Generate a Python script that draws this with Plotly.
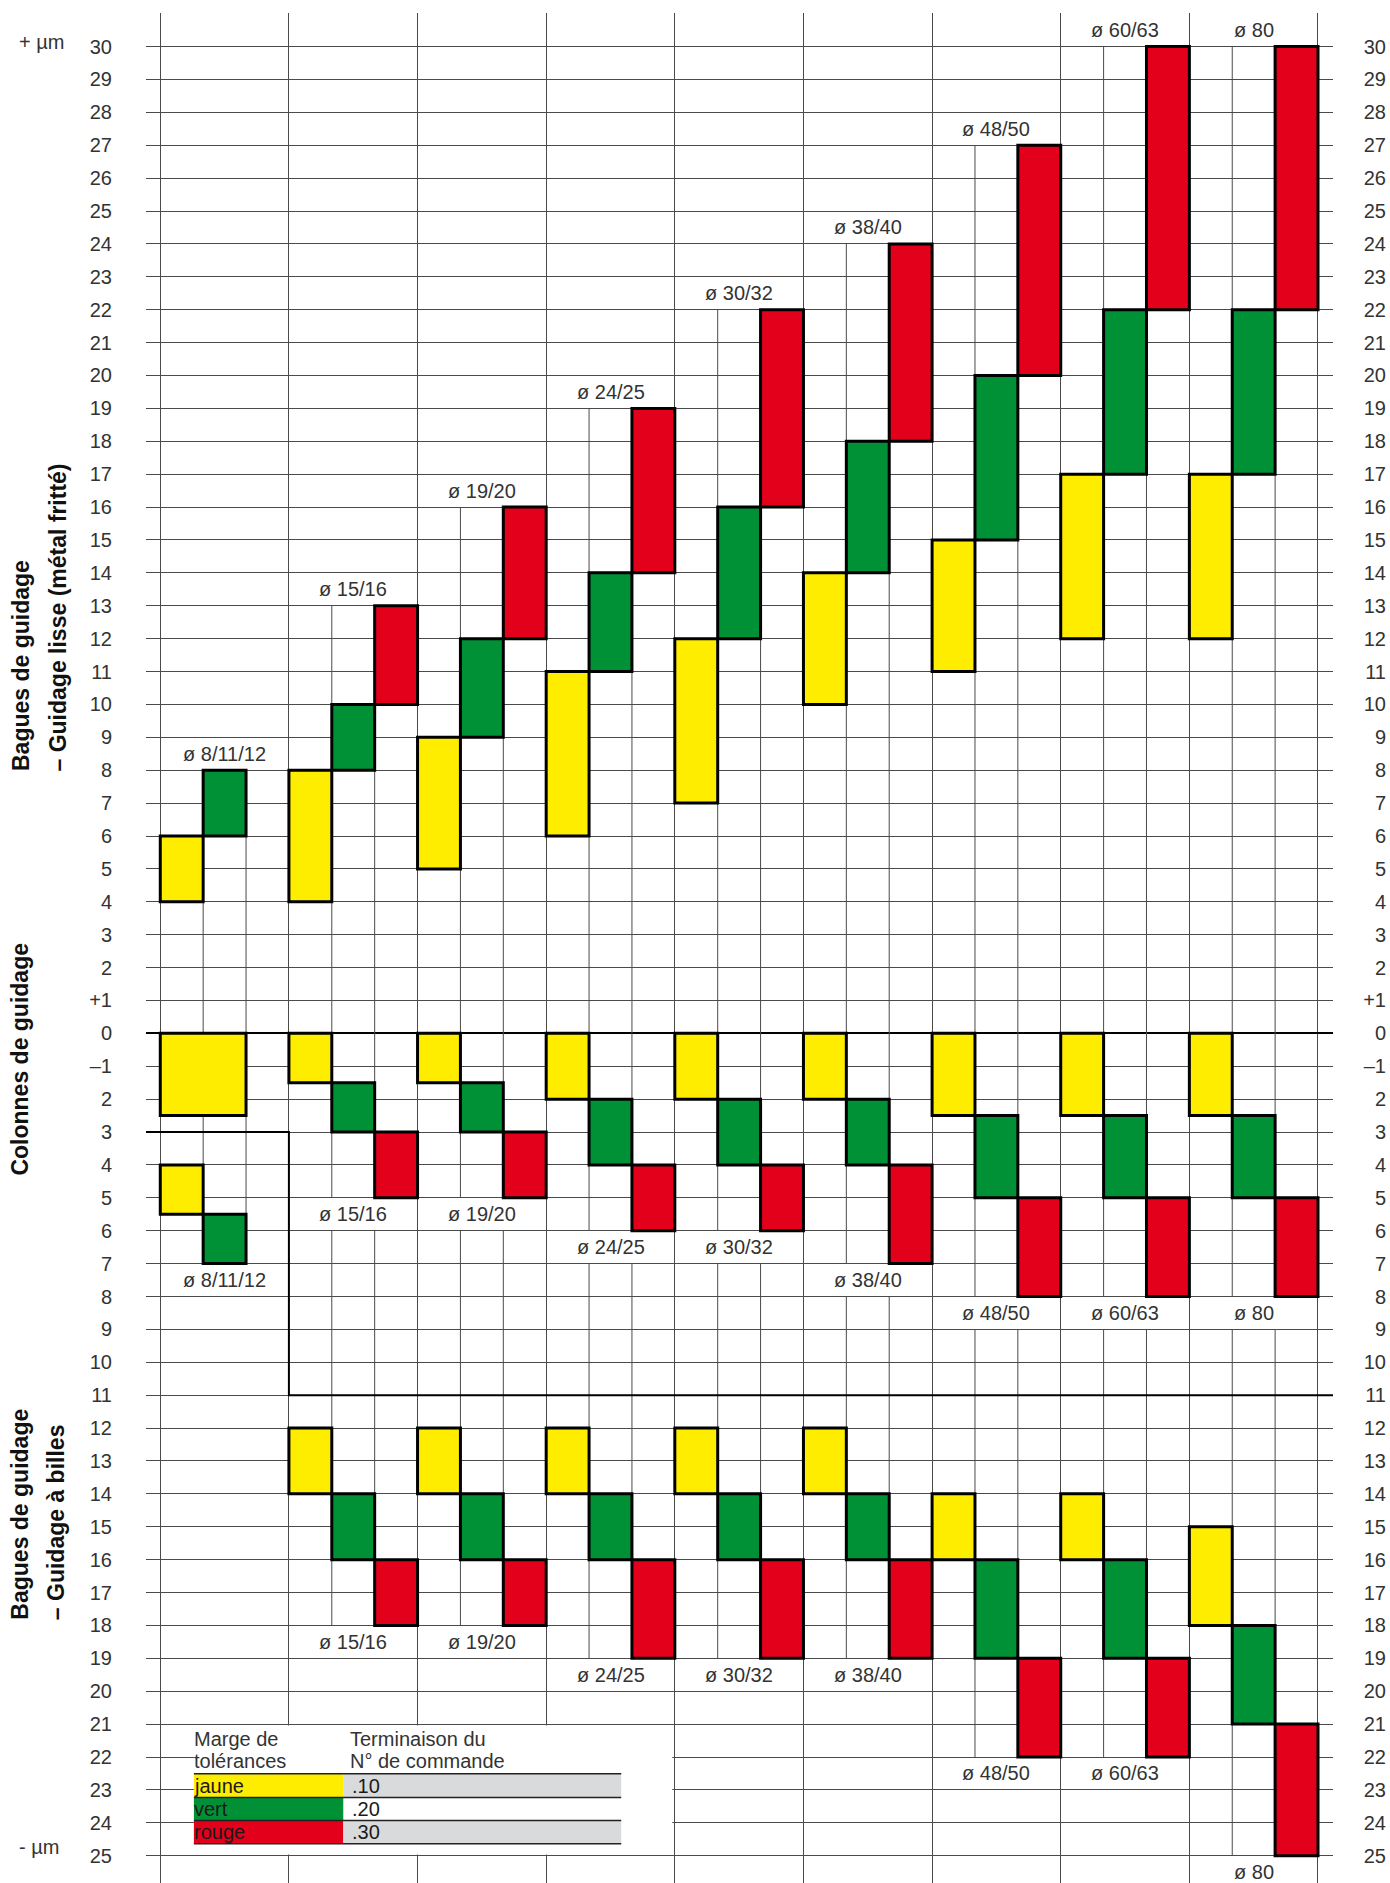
import plotly.graph_objects as go

# ---------------------------------------------------------------- data
groupes = ["ø 8/11/12", "ø 15/16", "ø 19/20", "ø 24/25", "ø 30/32",
           "ø 38/40", "ø 48/50", "ø 60/63", "ø 80"]

# Bagues de guidage – guidage lisse (métal fritté): (min, max) in µm
lisse_jaune = [(4, 6), (4, 8), (5, 9), (6, 11), (7, 12), (10, 14), (11, 15), (12, 17), (12, 17)]
lisse_vert = [(6, 8), (8, 10), (9, 12), (11, 14), (12, 16), (14, 18), (15, 20), (17, 22), (17, 22)]
lisse_rouge = [None, (10, 13), (12, 16), (14, 19), (16, 22), (18, 24), (20, 27), (22, 30), (22, 30)]

# Colonnes de guidage: (min, max) in µm
colonnes_jaune = [(-2.5, 0), (-1.5, 0), (-1.5, 0), (-2, 0), (-2, 0), (-2, 0), (-2.5, 0), (-2.5, 0), (-2.5, 0)]
colonnes_jaune_largeur = [2, 1, 1, 1, 1, 1, 1, 1, 1]
colonnes_vert = [None, (-3, -1.5), (-3, -1.5), (-4, -2), (-4, -2), (-4, -2), (-5, -2.5), (-5, -2.5), (-5, -2.5)]
colonnes_rouge = [None, (-5, -3), (-5, -3), (-6, -4), (-6, -4), (-7, -4), (-8, -5), (-8, -5), (-8, -5)]
# second pair of the first group (ø 11/12)
colonnes_11_12_jaune = (-5.5, -4)
colonnes_11_12_vert = (-7, -5.5)

# Bagues de guidage – guidage à billes: (min, max) in µm
billes_jaune = [None, (-14, -12), (-14, -12), (-14, -12), (-14, -12), (-14, -12), (-16, -14), (-16, -14), (-18, -15)]
billes_vert = [None, (-16, -14), (-16, -14), (-16, -14), (-16, -14), (-16, -14), (-19, -16), (-19, -16), (-21, -18)]
billes_rouge = [None, (-18, -16), (-18, -16), (-19, -16), (-19, -16), (-19, -16), (-22, -19), (-22, -19), (-25, -21)]

valeurs_y = list(range(30, -26, -1))
etiquettes_y = ["30", "29", "28", "27", "26", "25", "24", "23", "22", "21", "20",
                "19", "18", "17", "16", "15", "14", "13", "12", "11", "10",
                "9", "8", "7", "6", "5", "4", "3", "2", "+1", "0", "–1",
                "2", "3", "4", "5", "6", "7", "8", "9", "10", "11", "12", "13",
                "14", "15", "16", "17", "18", "19", "20", "21", "22", "23", "24", "25"]

legende_noms = ["jaune", "vert", "rouge"]
legende_codes = [".10", ".20", ".30"]

# ---------------------------------------------------------------- style
JAUNE, VERT, ROUGE = "#FFED00", "#009036", "#E2001A"
GRIS = "#D9DADB"
GRILLE = "#4a4a4a"
TEXTE = "#333333"
POLICE = "Liberation Sans, Arial, sans-serif"

W, H = 1390, 1883
M_LEFT, M_TOP = 146, 13
PLOT_RIGHT = 1333
X_RANGE = [-0.333, 27.35]
Y_RANGE = [-25.83, 31.02]
N_COL = 3  # jaune / vert / rouge columns per diameter group


def px_x(px):
    """Horizontal pixel position -> paper fraction."""
    return (px - M_LEFT) / (W - M_LEFT)


# ---------------------------------------------------------------- boxes
boites = {JAUNE: dict(x=[], base=[], h=[], w=[]),
          VERT: dict(x=[], base=[], h=[], w=[]),
          ROUGE: dict(x=[], base=[], h=[], w=[])}


def ajoute(couleur, g, colonne, plage, largeur=1):
    if plage is None:
        return
    lo, hi = plage
    b = boites[couleur]
    b["x"].append(N_COL * g + colonne + largeur / 2)
    b["base"].append(lo)
    b["h"].append(hi - lo)
    b["w"].append(largeur)


for g in range(len(groupes)):
    ajoute(JAUNE, g, 0, lisse_jaune[g])
    ajoute(VERT, g, 1, lisse_vert[g])
    ajoute(ROUGE, g, 2, lisse_rouge[g])
    ajoute(JAUNE, g, 0, colonnes_jaune[g], colonnes_jaune_largeur[g])
    ajoute(VERT, g, 1, colonnes_vert[g])
    ajoute(ROUGE, g, 2, colonnes_rouge[g])
    ajoute(JAUNE, g, 0, billes_jaune[g])
    ajoute(VERT, g, 1, billes_vert[g])
    ajoute(ROUGE, g, 2, billes_rouge[g])
ajoute(JAUNE, 0, 0, colonnes_11_12_jaune)
ajoute(VERT, 0, 1, colonnes_11_12_vert)


def presentes(*series, g):
    return [s[g] for s in series if s[g] is not None]


# sub-column lines run between the diameter labels of each group
formes = []
etiquettes = []  # (x, y, texte)
for g, nom in enumerate(groupes):
    haut = max(p[1] for p in presentes(lisse_jaune, lisse_vert, lisse_rouge, g=g))
    mid = presentes(colonnes_jaune, colonnes_vert, colonnes_rouge, g=g)
    if g == 0:
        mid += [colonnes_11_12_jaune, colonnes_11_12_vert]
    bas_col = min(p[0] for p in mid)
    segments = [(bas_col, haut)]
    etiquettes += [(N_COL * g + 1.5, haut + 0.5, nom), (N_COL * g + 1.5, bas_col - 0.5, nom)]
    bil = presentes(billes_jaune, billes_vert, billes_rouge, g=g)
    if bil:
        bas_bil = min(p[0] for p in bil)
        segments.append((bas_bil, bas_col - 1))
        etiquettes.append((N_COL * g + 1.5, bas_bil - 0.5, nom))
    for c in range(1, N_COL):
        for lo, hi in segments:
            formes.append(dict(type="line", xref="x", yref="y",
                               x0=N_COL * g + c, x1=N_COL * g + c, y0=lo, y1=hi,
                               line=dict(color=GRILLE, width=1), layer="between"))

fig = go.Figure()
for couleur, b in boites.items():
    fig.add_trace(go.Bar(x=b["x"], y=b["h"], base=b["base"], width=b["w"],
                         marker=dict(color=couleur, line=dict(color="#000000", width=3)),
                         hoverinfo="skip", showlegend=False))
# carries the right-hand scale
fig.add_trace(go.Scatter(x=[None], y=[None], yaxis="y2", showlegend=False, hoverinfo="skip"))

# ---------------------------------------------------------------- annotations
ann = []
for x, y, t in etiquettes:
    ann.append(dict(x=x, y=y, xref="x", yref="y", text=t, showarrow=False,
                    font=dict(size=20, color=TEXTE, family=POLICE)))

ann += [
    dict(x=px_x(17), y=30.15, xref="paper", yref="y", text="+ µm", xanchor="left",
         showarrow=False, font=dict(size=20, color=TEXTE, family=POLICE)),
    dict(x=px_x(17), y=-24.75, xref="paper", yref="y", text="- µm", xanchor="left",
         showarrow=False, font=dict(size=20, color=TEXTE, family=POLICE)),
]

titres = [
    ("<b>Bagues de guidage</b>", 21, 7.9),
    ("<b>– Guidage lisse (métal fritté)</b>", 57, 7.9),
    ("<b>Colonnes de guidage</b>", 20, -4.4),
    ("<b>Bagues de guidage</b>", 20, -17.9),
    ("<b>– Guidage à billes</b>", 56, -17.9),
]
for t, xp, y in titres:
    ann.append(dict(x=px_x(xp), y=y, xref="paper", yref="y", text=t, textangle=-90,
                    xanchor="center", yanchor="bottom", showarrow=False,
                    font=dict(size=23, color="#111111", family=POLICE)))

# ---------------------------------------------------------------- key
LX0, LX1, LX2, LXB = 0.784, 4.268, 10.75, 11.94
rangs = [-22.51, -23.23, -23.93, -24.64]
formes += [
    dict(type="rect", xref="x", yref="y", x0=LX0, x1=LXB, y0=-21.04, y1=-24.96,
         fillcolor="white", line=dict(width=0), layer="between"),
    dict(type="path", xref="x", yref="y", path="M -1,-3 L 3,-3 L 3,-11 L 28,-11",
         line=dict(color="#000000", width=2), layer="above"),
]
for i, (nom, code, couleur) in enumerate(zip(legende_noms, legende_codes, [JAUNE, VERT, ROUGE])):
    y0, y1 = rangs[i], rangs[i + 1]
    formes.append(dict(type="rect", xref="x", yref="y", x0=LX0, x1=LX1, y0=y0, y1=y1,
                       fillcolor=couleur, line=dict(width=0), layer="above"))
    if i != 1:
        formes.append(dict(type="rect", xref="x", yref="y", x0=LX1, x1=LX2, y0=y0, y1=y1,
                           fillcolor=GRIS, line=dict(width=0), layer="above"))
    ann.append(dict(x=LX0, y=(y0 + y1) / 2, xref="x", yref="y", text=nom, xanchor="left",
                    xshift=-2, showarrow=False, font=dict(size=20, color="#1a1a1a", family=POLICE)))
    ann.append(dict(x=LX1 + 0.16, y=(y0 + y1) / 2, xref="x", yref="y", text=code, xanchor="left",
                    showarrow=False, font=dict(size=20, color="#1a1a1a", family=POLICE)))
for y in rangs:
    formes.append(dict(type="line", xref="x", yref="y", x0=LX0, x1=LX2, y0=y, y1=y,
                       line=dict(color="#222222", width=1.5), layer="above"))
for t, x, y in [("Marge de", LX0, -21.45), ("tolérances", LX0, -22.13),
                ("Terminaison du", LX1 + 0.16, -21.45), ("N° de commande", LX1 + 0.16, -22.13)]:
    ann.append(dict(x=x, y=y, xref="x", yref="y", text=t, xanchor="left", xshift=-2,
                    showarrow=False, font=dict(size=20, color=TEXTE, family=POLICE)))

# ---------------------------------------------------------------- layout
axe_y = dict(range=Y_RANGE, tickvals=valeurs_y, ticktext=etiquettes_y, ticks="",
             tickfont=dict(size=20, color=TEXTE, family=POLICE))
fig.update_layout(
    width=W, height=H, template="none",
    margin=dict(l=M_LEFT, r=0, t=M_TOP, b=0, pad=0),
    paper_bgcolor="white", plot_bgcolor="white",
    barmode="overlay", showlegend=False,
    xaxis=dict(range=X_RANGE, domain=[0, (PLOT_RIGHT - M_LEFT) / (W - M_LEFT)],
               tickvals=list(range(0, 28, 3)), showticklabels=False, ticks="",
               showgrid=True, gridcolor=GRILLE, gridwidth=1, zeroline=False, showline=False),
    yaxis=dict(**axe_y, showgrid=True, gridcolor=GRILLE, gridwidth=1,
               zeroline=True, zerolinecolor="#000000", zerolinewidth=2,
               showline=False, ticklabelstandoff=33),
    yaxis2=dict(**axe_y, overlaying="y", anchor="free", position=1, side="left",
                showgrid=False, zeroline=False, showline=False, ticklabelstandoff=4),
    annotations=ann, shapes=formes,
)

fig.write_html("out.html")
